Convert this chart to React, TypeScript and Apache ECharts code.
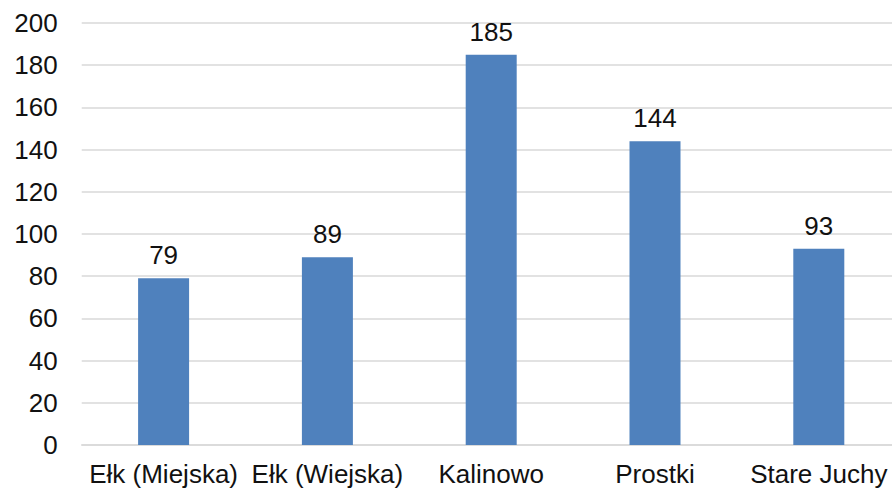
import React, { useEffect, useRef } from "react";
import * as echarts from "echarts";

const categories = ["Ełk (Miejska)", "Ełk (Wiejska)", "Kalinowo", "Prostki", "Stare Juchy"];
const values = [79, 89, 185, 144, 93];

export default function App() {
  const ref = useRef<HTMLDivElement>(null);
  useEffect(() => {
    document.body.style.margin = "0";
    const chart = echarts.init(ref.current!, null, { renderer: "svg" });
    const font = "'Liberation Sans', Arial, sans-serif";
    chart.setOption({
      animation: false,
      grid: { left: 81.7, width: 819, top: 23, height: 422, outerBoundsMode: "none", containLabel: false },
      xAxis: {
        type: "category",
        data: categories,
        axisLine: { show: true, lineStyle: { color: "#d9d9d9", width: 1.5 } },
        axisTick: { show: false },
        axisLabel: { color: "#111", fontSize: 26, fontFamily: font, margin: 16, interval: 0 },
      },
      yAxis: {
        type: "value",
        min: 0,
        max: 200,
        interval: 20,
        axisLine: { show: false },
        axisTick: { show: false },
        splitLine: { lineStyle: { color: "#d9d9d9", width: 1.5 } },
        axisLabel: { color: "#111", fontSize: 26, fontFamily: font, margin: 24 },
      },
      series: [
        {
          type: "bar",
          data: values,
          barWidth: 51,
          itemStyle: { color: "#4F81BD" },
          label: {
            show: true,
            position: "top",
            distance: 10,
            color: "#111",
            fontSize: 26,
            fontFamily: font,
          },
        },
      ],
    });
    return () => chart.dispose();
  }, []);
  return <div ref={ref} style={{ width: 892, height: 489 }} />;
}
